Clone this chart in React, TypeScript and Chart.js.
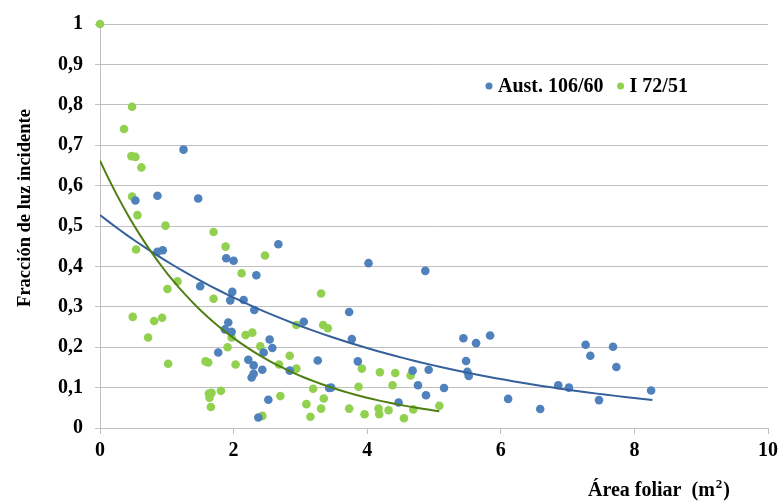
import React, { useEffect, useRef } from "react";
import { Chart, registerables } from "chart.js";

Chart.register(...registerables);

const seriesNames = ["Aust. 106/60", "I 72/51"];

const austX = [1.25, 0.53, 0.86, 1.47, 0.86, 0.94, 2.67, 1.89, 2.0, 2.34, 1.5, 1.98, 1.95, 2.15, 2.31, 1.92, 1.87, 1.97, 1.77, 2.54, 2.58, 2.45, 2.22, 2.3, 2.43, 2.3, 2.27, 2.52, 2.37, 2.84, 3.05, 3.26, 3.43, 4.02, 4.87, 3.73, 3.77, 3.86, 3.46, 4.68, 4.92, 4.76, 4.88, 5.15, 4.47, 5.44, 5.84, 5.63, 5.48, 5.5, 5.52, 6.11, 6.59, 6.86, 7.02, 7.27, 7.34, 7.68, 7.73, 7.47, 8.25];
const austY = [0.689, 0.563, 0.575, 0.568, 0.436, 0.44, 0.455, 0.42, 0.414, 0.378, 0.351, 0.337, 0.316, 0.317, 0.292, 0.261, 0.244, 0.238, 0.187, 0.219, 0.198, 0.187, 0.169, 0.155, 0.144, 0.134, 0.125, 0.07, 0.026, 0.142, 0.263, 0.167, 0.099, 0.408, 0.389, 0.287, 0.22, 0.165, 0.1, 0.142, 0.144, 0.106, 0.081, 0.099, 0.063, 0.222, 0.229, 0.21, 0.166, 0.139, 0.129, 0.072, 0.047, 0.106, 0.1, 0.206, 0.179, 0.201, 0.151, 0.069, 0.093];

const i72X = [0, 0.48, 0.36, 0.47, 0.53, 0.62, 0.48, 0.56, 0.98, 1.7, 0.54, 1.88, 2.47, 2.12, 1.16, 1.01, 1.7, 0.49, 0.81, 0.93, 0.72, 1.02, 1.97, 1.91, 2.18, 2.28, 2.4, 1.58, 1.62, 2.03, 2.68, 2.84, 2.94, 2.94, 3.31, 3.34, 3.41, 1.63, 1.67, 1.64, 1.81, 1.66, 2.43, 2.7, 3.19, 3.35, 3.09, 3.31, 3.15, 3.92, 4.19, 4.42, 4.65, 4.38, 3.87, 3.73, 3.96, 4.17, 4.18, 4.32, 4.55, 4.69, 5.08];
const i72Y = [1.0, 0.795, 0.74, 0.673, 0.671, 0.645, 0.573, 0.527, 0.501, 0.485, 0.442, 0.449, 0.427, 0.383, 0.363, 0.344, 0.32, 0.275, 0.265, 0.273, 0.224, 0.159, 0.224, 0.2, 0.23, 0.236, 0.202, 0.165, 0.162, 0.157, 0.157, 0.179, 0.147, 0.255, 0.333, 0.255, 0.247, 0.085, 0.087, 0.075, 0.092, 0.052, 0.03, 0.079, 0.097, 0.073, 0.059, 0.048, 0.028, 0.147, 0.138, 0.136, 0.13, 0.106, 0.102, 0.048, 0.034, 0.048, 0.034, 0.044, 0.024, 0.046, 0.055];

// Exponential trendlines y = a * exp(-b x), as fitted in the original chart
const austTrend = { a: 0.527, b: 0.245, xEnd: 8.27 };
const i72Trend = { a: 0.662, b: 0.545, xEnd: 5.08 };

const xTicks = [0, 2, 4, 6, 8, 10];

const FONT = "'Liberation Serif', 'Times New Roman', serif";
const BLUE = "#4F81BD";
const GREEN = "#92D050";
const BLUE_LINE = "#35609B";
const GREEN_LINE = "#4F7F12";

function trendPoints(t: { a: number; b: number; xEnd: number }) {
  const pts: { x: number; y: number }[] = [];
  const n = 60;
  for (let i = 0; i <= n; i++) {
    const x = (t.xEnd * i) / n;
    pts.push({ x, y: t.a * Math.exp(-t.b * x) });
  }
  return pts;
}

const overlayPlugin = {
  id: "overlay",
  afterDraw(chart: any) {
    const ctx = chart.ctx;
    ctx.save();
    ctx.fillStyle = "#000";
    ctx.font = `bold 20px ${FONT}`;
    ctx.textBaseline = "middle";
    // Legend
    let x = 485;
    const y = 86;
    const items = [
      { label: seriesNames[0], color: BLUE },
      { label: seriesNames[1], color: GREEN },
    ];
    items.forEach((it) => {
      ctx.beginPath();
      ctx.fillStyle = it.color;
      ctx.arc(x + 4, y, 3.5, 0, Math.PI * 2);
      ctx.fill();
      ctx.fillStyle = "#000";
      ctx.textAlign = "left";
      ctx.fillText(it.label, x + 13, y + 1);
      x += 13 + ctx.measureText(it.label).width + 13;
    });
    // X title
    ctx.textAlign = "left";
    ctx.textBaseline = "alphabetic";
    const base = "Área foliar  (m";
    const tx = 588;
    const ty = 496;
    ctx.fillText(base, tx, ty);
    let w = ctx.measureText(base).width;
    ctx.font = `bold 13px ${FONT}`;
    ctx.fillText("2", tx + w + 1, ty - 8);
    w += ctx.measureText("2").width + 1;
    ctx.font = `bold 20px ${FONT}`;
    ctx.fillText(")", tx + w + 1, ty);
    // Y title
    ctx.translate(25, 208);
    ctx.rotate(-Math.PI / 2);
    ctx.textAlign = "center";
    ctx.textBaseline = "middle";
    ctx.font = `bold 18.5px ${FONT}`;
    ctx.fillText("Fracción de luz incidente", 0, 0);
    ctx.restore();
  },
};

export default function App() {
  const ref = useRef<HTMLCanvasElement>(null);
  useEffect(() => {
    const canvas = ref.current!;
    const chart = new Chart(canvas, {
      type: "scatter",
      data: {
        datasets: [
          {
            label: seriesNames[0],
            data: austX.map((x, i) => ({ x, y: austY[i] })),
            backgroundColor: BLUE,
            borderColor: BLUE,
            pointRadius: 4.3,
            pointBorderWidth: 0,
            clip: false,
            order: 2,
          } as any,
          {
            label: seriesNames[1],
            data: i72X.map((x, i) => ({ x, y: i72Y[i] })),
            backgroundColor: GREEN,
            borderColor: GREEN,
            pointRadius: 4.3,
            pointBorderWidth: 0,
            clip: false,
            order: 3,
          } as any,
          {
            label: "trend1",
            type: "line",
            data: trendPoints(austTrend),
            borderColor: BLUE_LINE,
            borderWidth: 2,
            pointRadius: 0,
            fill: false,
            tension: 0,
            order: 1,
          } as any,
          {
            label: "trend2",
            type: "line",
            data: trendPoints(i72Trend),
            borderColor: GREEN_LINE,
            borderWidth: 2,
            pointRadius: 0,
            fill: false,
            tension: 0,
            order: 0,
          } as any,
        ],
      },
      options: {
        responsive: false,
        animation: false,
        layout: { padding: { top: 21, right: 16, left: 0, bottom: 0 } },
        plugins: {
          legend: { display: false },
          tooltip: { enabled: false },
        },
        scales: {
          x: {
            type: "linear",
            min: 0,
            max: 10,
            afterBuildTicks: (s: any) => {
              s.ticks = xTicks.map((v) => ({ value: v }));
            },
            afterFit: (s: any) => {
              s.height = 73;
            },
            grid: {
              drawOnChartArea: false,
              drawTicks: true,
              tickLength: 6,
              color: "#BFBFBF",
            },
            border: { color: "#BFBFBF", width: 1 },
            ticks: {
              color: "#000",
              padding: 5,
              font: { family: FONT, size: 20, weight: "bold" },
              maxRotation: 0,
            },
          },
          y: {
            type: "linear",
            min: 0,
            max: 1,
            afterFit: (s: any) => {
              s.width = 100;
            },
            grid: {
              color: "#BFBFBF",
              drawTicks: true,
              tickLength: 5,
            },
            border: { color: "#BFBFBF", width: 1 },
            ticks: {
              stepSize: 0.1,
              color: "#000",
              padding: 12,
              font: { family: FONT, size: 20, weight: "bold" },
              callback: (v: any) => String(Math.round(Number(v) * 10) / 10).replace(".", ","),
            },
          },
        },
      },
      plugins: [overlayPlugin],
    });
    return () => chart.destroy();
  }, []);
  return (
    <div style={{ position: "absolute", left: 0, top: 0, width: 784, height: 501, background: "#fff" }}>
      <canvas ref={ref} width={784} height={501} style={{ width: 784, height: 501 }} />
    </div>
  );
}
